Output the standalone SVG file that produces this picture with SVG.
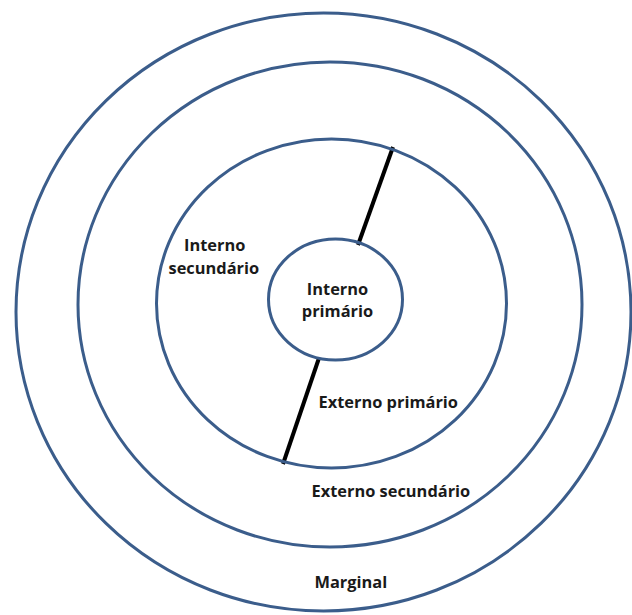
<svg xmlns="http://www.w3.org/2000/svg" width="632" height="615" viewBox="0 0 632 615">
<style>
.ring{fill:none;stroke:#3b5d8b;stroke-width:3}
.core{fill:#ffffff;stroke:#3b5d8b;stroke-width:3}
.lbl{font-family:"Open Sans","Liberation Sans",sans-serif;font-weight:bold;font-size:16.4px;fill:#1a1a1a}
.div{stroke:#000;stroke-width:4;stroke-linecap:butt}
</style>
<rect width="632" height="615" fill="#ffffff"/>
<g id="marginal">
<ellipse class="ring" cx="323.5" cy="312" rx="307.5" ry="299"/>
<text class="lbl" x="314.5" y="588">Marginal</text>
</g>
<g id="externo-secundario">
<ellipse class="ring" cx="330" cy="304.5" rx="252" ry="242.5"/>
<text class="lbl" x="311.5" y="497">Externo secundário</text>
</g>
<g id="connectors">
<line class="div" x1="393" y1="147" x2="358" y2="245"/>
<line class="div" x1="319" y1="358" x2="283" y2="464"/>
</g>
<g id="secundario">
<ellipse class="ring" cx="331.5" cy="303.5" rx="175" ry="164.5"/>
<text class="lbl" x="184" y="250.5">Interno</text>
<text class="lbl" x="168.5" y="273.5">secundário</text>
<text class="lbl" x="318.5" y="408">Externo primário</text>
</g>
<g id="interno-primario">
<ellipse class="ring" cx="335.5" cy="299.5" rx="67" ry="60.5"/>
<text class="lbl" x="337.5" y="295" text-anchor="middle">Interno</text>
<text class="lbl" x="337.5" y="317" text-anchor="middle">primário</text>
</g>
</svg>
